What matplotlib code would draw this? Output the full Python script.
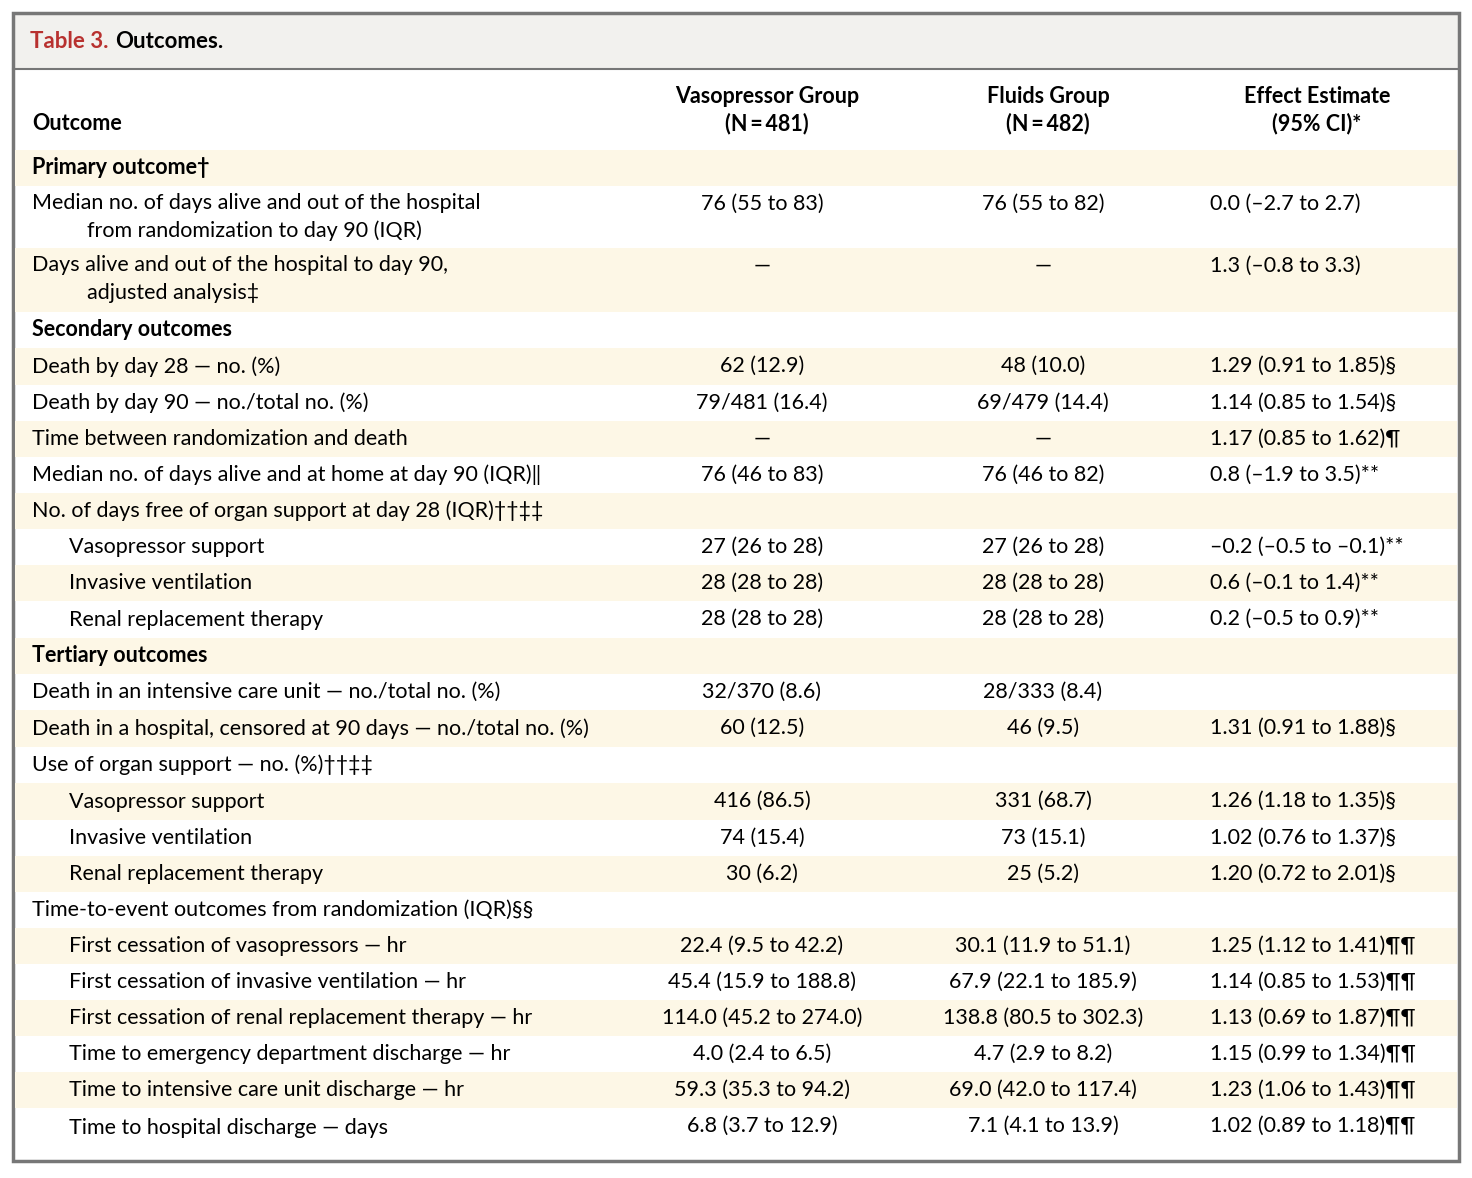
import matplotlib.pyplot as plt
from matplotlib.patches import Rectangle

plt.rcParams['font.family'] = ['Lato', 'DejaVu Sans']

# rows: (label, indent level, bold, vasopressor, fluids, effect, top, bottom)
labels = [
    "Primary outcome\u2020",
    "Median no. of days alive and out of the hospital\n          from randomization to day 90 (IQR)",
    "Days alive and out of the hospital to day 90,\n          adjusted analysis\u2021",
    "Secondary outcomes",
    "Death by day 28 \u2014 no. (%)",
    "Death by day 90 \u2014 no./total no. (%)",
    "Time between randomization and death",
    "Median no. of days alive and at home at day 90 (IQR)\u2016",
    "No. of days free of organ support at day 28 (IQR)\u2020\u2020\u2021\u2021",
    "Vasopressor support",
    "Invasive ventilation",
    "Renal replacement therapy",
    "Tertiary outcomes",
    "Death in an intensive care unit \u2014 no./total no. (%)",
    "Death in a hospital, censored at 90 days \u2014 no./total no. (%)",
    "Use of organ support \u2014 no. (%)\u2020\u2020\u2021\u2021",
    "Vasopressor support",
    "Invasive ventilation",
    "Renal replacement therapy",
    "Time-to-event outcomes from randomization (IQR)\u00a7\u00a7",
    "First cessation of vasopressors \u2014 hr",
    "First cessation of invasive ventilation \u2014 hr",
    "First cessation of renal replacement therapy \u2014 hr",
    "Time to emergency department discharge \u2014 hr",
    "Time to intensive care unit discharge \u2014 hr",
    "Time to hospital discharge \u2014 days",
]
indent = [0, 0, 0, 0, 0, 0, 0, 0, 0, 1, 1, 1, 0, 0, 0, 0, 1, 1, 1, 0, 1, 1, 1, 1, 1, 1]
bold = [1, 0, 0, 1, 0, 0, 0, 0, 0, 0, 0, 0, 1, 0, 0, 0, 0, 0, 0, 0, 0, 0, 0, 0, 0, 0]
vaso = ["", "76 (55 to 83)", "\u2014", "", "62 (12.9)", "79/481 (16.4)", "\u2014", "76 (46 to 83)", "",
        "27 (26 to 28)", "28 (28 to 28)", "28 (28 to 28)", "", "32/370 (8.6)", "60 (12.5)", "",
        "416 (86.5)", "74 (15.4)", "30 (6.2)", "", "22.4 (9.5 to 42.2)", "45.4 (15.9 to 188.8)",
        "114.0 (45.2 to 274.0)", "4.0 (2.4 to 6.5)", "59.3 (35.3 to 94.2)", "6.8 (3.7 to 12.9)"]
fluids = ["", "76 (55 to 82)", "\u2014", "", "48 (10.0)", "69/479 (14.4)", "\u2014", "76 (46 to 82)", "",
          "27 (26 to 28)", "28 (28 to 28)", "28 (28 to 28)", "", "28/333 (8.4)", "46 (9.5)", "",
          "331 (68.7)", "73 (15.1)", "25 (5.2)", "", "30.1 (11.9 to 51.1)", "67.9 (22.1 to 185.9)",
          "138.8 (80.5 to 302.3)", "4.7 (2.9 to 8.2)", "69.0 (42.0 to 117.4)", "7.1 (4.1 to 13.9)"]
effect = ["", "0.0 (\u20132.7 to 2.7)", "1.3 (\u20130.8 to 3.3)", "", "1.29 (0.91 to 1.85)\u00a7",
          "1.14 (0.85 to 1.54)\u00a7", "1.17 (0.85 to 1.62)\u00b6", "0.8 (\u20131.9 to 3.5)**", "",
          "\u20130.2 (\u20130.5 to \u20130.1)**", "0.6 (\u20130.1 to 1.4)**", "0.2 (\u20130.5 to 0.9)**", "", "",
          "1.31 (0.91 to 1.88)\u00a7", "", "1.26 (1.18 to 1.35)\u00a7", "1.02 (0.76 to 1.37)\u00a7",
          "1.20 (0.72 to 2.01)\u00a7", "", "1.25 (1.12 to 1.41)\u00b6\u00b6", "1.14 (0.85 to 1.53)\u00b6\u00b6",
          "1.13 (0.69 to 1.87)\u00b6\u00b6", "1.15 (0.99 to 1.34)\u00b6\u00b6", "1.23 (1.06 to 1.43)\u00b6\u00b6",
          "1.02 (0.89 to 1.18)\u00b6\u00b6"]
edges = [150, 186, 248, 312, 348, 385, 421, 457, 493, 529, 565, 601, 638, 674, 710, 747, 783,
         820, 856, 892, 928, 964, 1000, 1036, 1072, 1108, 1148]

fig = plt.figure(figsize=(14.72, 11.78), dpi=100)
ax = fig.add_axes([0, 0, 1, 1])
ax.set_xlim(0, 1472)
ax.set_ylim(1178, 0)
ax.axis('off')

# title band and frame
ax.add_patch(Rectangle((13, 13), 1446, 56, facecolor='#f2f1ee', edgecolor='none'))
ax.plot([13, 1459], [69, 69], color='#777777', lw=1.5)
ax.add_patch(Rectangle((13, 13), 1446, 1148, facecolor='none', edgecolor='#777777', lw=2.5))
ax.text(30, 41, "Table 3.", color='#b8312f', fontsize=16, fontweight='bold', va='center')
ax.text(115, 41, "Outcomes.", color='black', fontsize=16, fontweight='bold', va='center')

fs = 15.5
ax.text(32, 124, "Outcome", fontsize=fs, fontweight='bold', va='center')
ax.text(767, 110, "Vasopressor Group\n(N\u2009=\u2009481)", fontsize=fs, fontweight='bold',
        ha='center', va='center', linespacing=1.3)
ax.text(1048, 110, "Fluids Group\n(N\u2009=\u2009482)", fontsize=fs, fontweight='bold',
        ha='center', va='center', linespacing=1.3)
ax.text(1317, 110, "Effect Estimate\n(95% CI)*", fontsize=fs, fontweight='bold',
        ha='center', va='center', linespacing=1.3)

for i, lab in enumerate(labels):
    top, bot = edges[i], edges[i + 1]
    if i % 2 == 0:
        ax.add_patch(Rectangle((15, top), 1442, bot - top, facecolor='#fdf7e6', edgecolor='none'))
    ymid = (top + bot) / 2
    y1 = top + 18
    ylab = y1 + 13 if '\n' in lab else ymid
    ax.text(32 + 37 * indent[i], ylab, lab, fontsize=fs, va='center',
            fontweight='bold' if bold[i] else 'normal', linespacing=1.5)
    ax.text(762, y1, vaso[i], fontsize=fs, ha='center', va='center')
    ax.text(1043, y1, fluids[i], fontsize=fs, ha='center', va='center')
    ax.text(1210, y1, effect[i], fontsize=fs, ha='left', va='center')

fig.savefig('out.png', dpi=100)
